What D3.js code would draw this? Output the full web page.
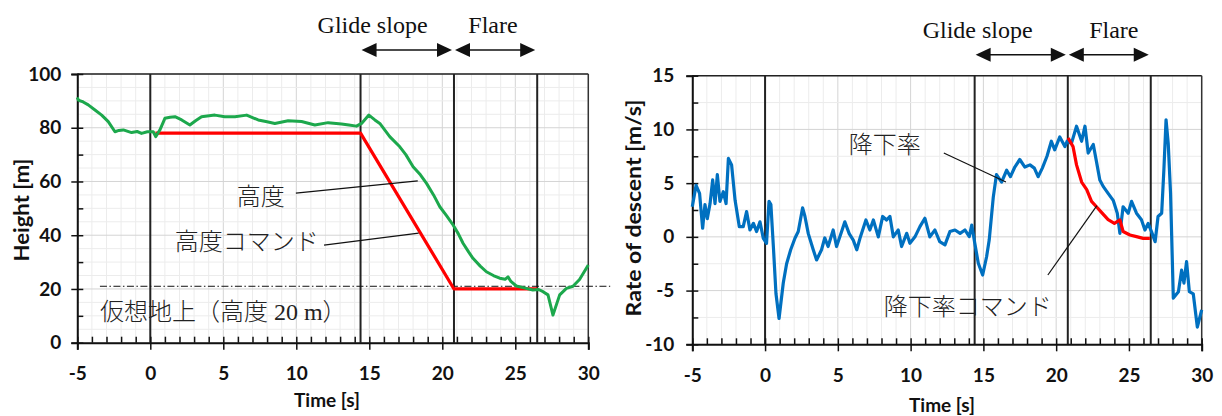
<!DOCTYPE html>
<html>
<head>
<meta charset="utf-8">
<script src="https://d3js.org/d3.v7.min.js"></script>
<style>
  body { margin: 0; background: #fff; }
  svg { display: block; }
  .tick-lab { font-family: Lato, "Open Sans", sans-serif; font-weight: 700; font-size: 19px; fill: #111; }
  .ax-title { font-family: Lato, "Open Sans", sans-serif; font-weight: 700; fill: #111; }
  .serif { font-family: "Liberation Serif", "Noto Sans CJK JP", serif; fill: #111; }
  .jp { font-family: "Liberation Serif", "Noto Sans CJK JP", serif; font-weight: 300; fill: #222; }
</style>
</head>
<body>
<svg width="1222" height="416"></svg>
<script>
// ---- data ----
var eventTimes = [0, 14.4, 20.8, 26.5];
var phaseNames = ["Glide slope", "Flare"];

// height [m]
var heightTime = [-5, -4.93, -4.6, -4.25, -3.79, -3.33, -2.88, -2.42, -2.15, -1.85, -1.28, -0.9, -0.6, -0.2, 0.2, 0.37, 0.66, 1.0, 1.35, 1.69, 2.15, 2.71, 3.1, 3.51, 4.42, 5.1, 5.8, 6.6, 7.39, 8.0, 8.53, 9.44, 10.36, 11.27, 12.18, 13.1, 13.6, 14.12, 14.47, 14.97, 15.38, 15.72, 16.4, 17.09, 17.5, 18.0, 18.5, 18.92, 19.4, 19.83, 20.3, 20.74, 21.1, 21.42, 21.8, 22.1, 22.6, 23.02, 23.5, 23.93, 24.3, 24.5, 24.7, 25.07, 25.6, 26.2, 26.6, 26.9, 27.24, 27.58, 28.04, 28.5, 28.95, 29.4, 30];
var heightVals = [91.3, 90.3, 89.6, 88.5, 86.6, 84.7, 82.3, 78.5, 79.0, 79.2, 78.2, 78.6, 77.9, 78.5, 78.5, 76.7, 79.2, 83.5, 83.9, 84.1, 82.9, 81.0, 82.6, 84.1, 84.7, 84.1, 84.1, 84.7, 82.9, 82.2, 81.6, 82.6, 82.3, 81.0, 81.9, 81.4, 81.0, 80.6, 81.6, 84.7, 82.9, 81.6, 76.7, 72.9, 70.0, 65.5, 62.5, 59.3, 55.0, 50.6, 47.2, 43.8, 40.5, 37.0, 33.8, 31.4, 28.5, 26.4, 25.0, 24.0, 23.6, 24.5, 22.8, 21.1, 20.4, 19.6, 19.8, 19.0, 17.8, 10.3, 17.8, 20.2, 21.0, 23.5, 28.9];
var heightCmdTime = [0.35, 14.4, 20.8, 26.5];
var heightCmdVals = [78, 78, 20, 20];
var virtualGround = 21;

// rate of descent [m/s]
var rateTime = [-5, -4.74, -4.5, -4.29, -4.13, -3.97, -3.78, -3.6, -3.44, -3.28, -3.1, -2.87, -2.68, -2.52, -2.3, -2.06, -1.77, -1.5, -1.27, -1.04, -0.8, -0.58, -0.35, -0.12, 0.1, 0.27, 0.4, 0.57, 0.75, 0.96, 1.25, 1.48, 1.76, 2.06, 2.28, 2.58, 2.74, 2.97, 3.31, 3.54, 3.88, 4.1, 4.33, 4.68, 4.91, 5.26, 5.48, 5.78, 6.06, 6.3, 6.52, 6.93, 7.2, 7.44, 7.78, 8.08, 8.35, 8.58, 8.81, 9.15, 9.38, 9.73, 9.95, 10.3, 10.64, 10.98, 11.32, 11.67, 12.0, 12.36, 12.7, 13.05, 13.4, 13.73, 14.03, 14.2, 14.41, 14.65, 14.95, 15.22, 15.4, 15.68, 15.9, 16.25, 16.6, 16.86, 17.16, 17.5, 17.85, 18.2, 18.5, 18.76, 19.05, 19.37, 19.67, 19.9, 20.25, 20.6, 20.75, 21.05, 21.4, 21.75, 21.98, 22.2, 22.55, 22.77, 23.0, 23.23, 23.57, 23.92, 24.2, 24.38, 24.6, 24.95, 25.18, 25.52, 25.86, 26.1, 26.32, 26.55, 26.8, 27.0, 27.25, 27.4, 27.55, 27.7, 27.86, 28.05, 28.4, 28.62, 28.78, 28.96, 29.15, 29.42, 29.7, 30.0];
var rateVals = [2.8, 4.8, 4.05, 0.8, 3.0, 1.7, 3.1, 5.3, 3.1, 5.8, 3.3, 4.2, 3.1, 7.3, 6.7, 3.4, 0.95, 0.95, 2.35, 0.64, 1.26, 0.49, 1.4, -0.14, -0.6, 3.3, 3.0, -0.9, -5.3, -7.6, -4.3, -2.5, -1.2, -0.1, 0.5, 2.7, 1.9, 0.3, -1.2, -2.15, -1.2, -0.1, -0.9, 0.64, -0.9, 0.49, 1.4, 0.3, -0.3, -1.2, -0.14, 1.57, 0.64, 1.57, 0, 1.9, 1.57, 1.9, 0, 0.64, -0.9, 0.33, -0.6, 0, 0.95, 1.73, 0, 0.64, -0.45, -0.75, 0.49, 0.64, 0.33, 0.64, 0.02, 1.1, -0.6, -2.46, -3.55, -1.85, -0.3, 3.7, 5.8, 5.1, 6.2, 5.6, 6.5, 7.2, 6.5, 6.7, 6.4, 5.6, 6.4, 7.5, 8.9, 8.1, 9.3, 8.4, 8.9, 8.7, 10.3, 8.9, 10.3, 7.8, 8.6, 7.0, 5.3, 4.7, 4.05, 3.4, 2.2, 0.33, 2.8, 2.2, 3.3, 2.2, 1.6, 0.64, 1.26, 0.49, -0.45, 1.9, 2.2, 6.2, 10.9, 8.7, 4.05, -5.7, -5.1, -3.1, -4.3, -2.3, -5.1, -5.3, -8.4, -6.8];
var rateCmdTime = [20.82, 21.16, 21.4, 21.75, 22.1, 22.43, 22.77, 23.1, 23.57, 24.0, 24.38, 24.6, 25.07, 25.52, 25.98, 26.44];
var rateCmdVals = [9.2, 8.4, 6.7, 5.1, 4.4, 3.3, 2.8, 2.3, 1.6, 1.26, 1.57, 0.5, 0.17, 0.02, -0.14, -0.14];

var svg = d3.select("svg");

function panel(cfg) {
  var x = d3.scaleLinear().domain([-5, 30]).range(cfg.xr);
  var y = d3.scaleLinear().domain(cfg.yd).range(cfg.yr);
  var g = svg.append("g");
  var top = cfg.yr[1], bot = cfg.yr[0], left = cfg.xr[0], right = cfg.xr[1];

  // grid
  var xMinor = d3.range(-5, 30.01, 1), yMinor = d3.range(cfg.yd[0], cfg.yd[1] + 0.01, cfg.yMinor);
  g.selectAll(".gxm").data(xMinor).join("line")
    .attr("x1", d => x(d)).attr("x2", d => x(d)).attr("y1", top).attr("y2", bot)
    .attr("stroke", d => d % 5 === 0 ? "#d4d4d4" : "#ececec").attr("stroke-width", 1);
  g.selectAll(".gym").data(yMinor).join("line")
    .attr("y1", d => y(d)).attr("y2", d => y(d)).attr("x1", left).attr("x2", right)
    .attr("stroke", d => Math.abs(d % cfg.yMajor) < 1e-6 ? "#d4d4d4" : "#ececec").attr("stroke-width", 1);

  // frame
  g.append("line").attr("x1", left).attr("x2", right).attr("y1", top).attr("y2", top).attr("stroke", "#222").attr("stroke-width", 1.5);
  g.append("line").attr("x1", right).attr("x2", right).attr("y1", top).attr("y2", bot).attr("stroke", "#333").attr("stroke-width", 1.5);

  // event lines
  g.selectAll(".ev").data(eventTimes).join("line")
    .attr("x1", d => x(d)).attr("x2", d => x(d)).attr("y1", top).attr("y2", bot)
    .attr("stroke", "#222").attr("stroke-width", 2);

  // axes
  var fmt = d => String(d);
  var xAx = g.append("g").attr("transform", "translate(0," + bot + ")")
    .call(d3.axisBottom(x).tickValues(d3.range(-5, 30.01, 5)).tickSize(7).tickPadding(17).tickFormat(fmt));
  g.append("g").attr("transform", "translate(0," + bot + ")")
    .call(d3.axisTop(x).tickValues(xMinor).tickSize(6).tickFormat(""))
    .call(s => s.select(".domain").remove());
  var yAx = g.append("g").attr("transform", "translate(" + left + ",0)")
    .call(d3.axisLeft(y).tickValues(d3.range(cfg.yd[0], cfg.yd[1] + 0.01, cfg.yLab)).tickSize(6).tickPadding(cfg.yPad).tickFormat(fmt));
  g.append("g").attr("transform", "translate(" + left + ",0)")
    .call(d3.axisRight(y).tickValues(d3.range(cfg.yd[0], cfg.yd[1] + 0.01, cfg.yLab / 2)).tickSize(6).tickFormat(""))
    .call(s => s.select(".domain").remove());
  [xAx, yAx].forEach(function (a) {
    a.select(".domain").attr("stroke", "#111").attr("stroke-width", 2);
    a.selectAll("text").attr("class", "tick-lab").attr("fill", "#111");
  });
  g.selectAll(".tick line").attr("stroke", "#111").attr("stroke-width", 1.5);

  // axis titles
  g.append("text").attr("class", "ax-title").attr("x", cfg.xTitle[0]).attr("y", cfg.xTitle[1])
    .attr("text-anchor", "middle").attr("font-size", 19).text("Time [s]");
  g.append("text").attr("class", "ax-title")
    .attr("transform", "translate(" + cfg.yTitle[0] + "," + cfg.yTitle[1] + ") rotate(-90)")
    .attr("text-anchor", "middle").attr("dominant-baseline", "central").attr("font-size", 20)
    .attr("textLength", cfg.yTitleLen).attr("lengthAdjust", "spacingAndGlyphs").text(cfg.yTitleText);

  // phase arrows
  var ay = top - cfg.arrowUp;
  var phases = [[eventTimes[1], eventTimes[2]], [eventTimes[2], eventTimes[3]]];
  phases.forEach(function (p, i) {
    var x0 = x(p[0]) + 1, x1 = x(p[1]) - 2;
    g.append("line").attr("x1", x0 + 8).attr("x2", x1 - 8).attr("y1", ay).attr("y2", ay).attr("stroke", "#111").attr("stroke-width", 1.5);
    g.append("path").attr("d", d3.line()([[x0, ay], [x0 + 15, ay - 7], [x0 + 15, ay + 7]]) + "Z").attr("fill", "#111");
    g.append("path").attr("d", d3.line()([[x1, ay], [x1 - 15, ay - 7], [x1 - 15, ay + 7]]) + "Z").attr("fill", "#111");
    g.append("text").attr("class", "serif").attr("font-size", 24).attr("text-anchor", "middle")
      .attr("x", x(p[0]) + cfg.phaseDx[i]).attr("y", ay - 17).text(phaseNames[i]);
  });

  return {g: g, x: x, y: y};
}

function series(p, xs, ys, color, w) {
  p.g.append("path").datum(xs.map((t, i) => [t, ys[i]]))
    .attr("fill", "none").attr("stroke", color).attr("stroke-width", w).attr("stroke-linejoin", "round")
    .attr("d", d3.line().x(d => p.x(d[0])).y(d => p.y(d[1])));
}

function leader(p, a, b) {
  p.g.append("line").attr("x1", p.x(a[0])).attr("y1", p.y(a[1])).attr("x2", p.x(b[0])).attr("y2", p.y(b[1]))
    .attr("stroke", "#111").attr("stroke-width", 1.2);
}

function label(p, t, v, txt, anchor) {
  p.g.append("text").attr("class", "jp").attr("font-size", 24).attr("text-anchor", anchor)
    .attr("dominant-baseline", "central").attr("x", p.x(t)).attr("y", p.y(v)).text(txt);
}

// ---- left: height ----
var L = panel({xr: [77.3, 588.3], yd: [0, 100], yr: [342.7, 74], yMinor: 5, yMajor: 20, yLab: 20, yPad: 10,
  xTitle: [327, 407], yTitle: [21, 210], yTitleLen: 103, yTitleText: "Height [m]", arrowUp: 24, phaseDx: [12, 39]});
L.g.append("line").attr("x1", L.x(-3.45)).attr("x2", L.x(31.5)).attr("y1", L.y(virtualGround)).attr("y2", L.y(virtualGround))
  .attr("stroke", "#111").attr("stroke-width", 1).attr("stroke-dasharray", "7,2.5,1.5,2.5");
series(L, heightCmdTime, heightCmdVals, "#ff0000", 3.2);
series(L, heightTime, heightVals, "#1ca84c", 3);
leader(L, [9.97, 55.7], [18.32, 60.2]);
leader(L, [11.9, 36.3], [18.38, 40.8]);
label(L, 7.57, 54.2, "高度", "middle");
label(L, 6.6, 37.3, "高度コマンド", "middle");
label(L, -3.45, 11.4, "仮想地上（高度 20 m）", "start");

// ---- right: rate of descent ----
var R = panel({xr: [692.3, 1201.7], yd: [-10, 15], yr: [344.3, 75.7], yMinor: 2.5, yMajor: 5, yLab: 5, yPad: 12,
  xTitle: [942, 412], yTitle: [633, 208], yTitleLen: 217, yTitleText: "Rate of descent [m/s]", arrowUp: 21, phaseDx: [3, 46]});
series(R, rateTime, rateVals, "#0070c0", 3.2);
series(R, rateCmdTime, rateCmdVals, "#ff0000", 3.2);
leader(R, [12.28, 7.8], [16.55, 5.1]);
leader(R, [19.43, -3.55], [22.8, 2.9]);
label(R, 8.23, 8.56, "降下率", "middle");
label(R, 13.93, -6.5, "降下率コマンド", "middle");
</script>
</body>
</html>
